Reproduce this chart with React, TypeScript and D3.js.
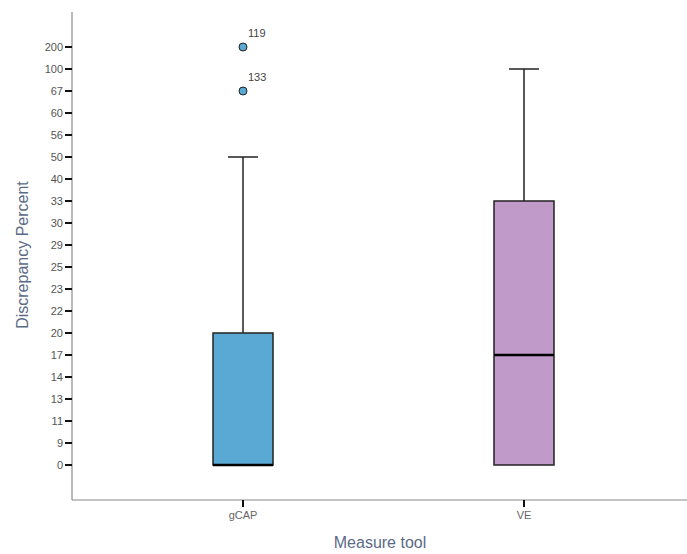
import React from 'react';
import * as d3 from 'd3';

const yTicks = ['0', '9', '11', '13', '14', '17', '20', '22', '23', '25', '29', '30', '33', '40', '50', '56', '60', '67', '100', '200'];
const categories = ['gCAP', 'VE'];
const whiskerLow = ['0', '0'];
const q1 = ['0', '0'];
const median = ['0', '17'];
const q3 = ['20', '33'];
const whiskerHigh = ['50', '100'];
const colors = ['#5aa9d5', '#c09bca'];
const outlierCat = ['gCAP', 'gCAP'];
const outlierVal = ['200', '67'];
const outlierLabel = ['119', '133'];

const W = 687, H = 554;
const axisX = 72, axisTop = 12, axisBottom = 500, axisRight = 687;

export default function App() {
  const y = d3.scalePoint<string>().domain(yTicks).range([465, 47]).padding(0);
  const x = d3.scalePoint<string>().domain(categories).range([243, 524]).padding(0);
  const boxW = 60, capW = 30;
  const font = 'Liberation Sans, Arial, sans-serif';
  const labelColor = '#5b6b86';
  return (
    <svg width={W} height={H} style={{ position: 'absolute', left: 0, top: 0, background: '#fff' }} fontFamily={font}>
      {/* axes */}
      <line x1={axisX} x2={axisX} y1={axisTop} y2={axisBottom} stroke="#8a8a8a" strokeWidth={1.2} />
      <line x1={axisX} x2={axisRight} y1={axisBottom} y2={axisBottom} stroke="#8a8a8a" strokeWidth={1.2} />
      {yTicks.map((t) => (
        <g key={t}>
          <line x1={axisX - 7} x2={axisX} y1={y(t)} y2={y(t)} stroke="#111" strokeWidth={2} />
          <text x={axisX - 9} y={y(t)!} dy="0.35em" textAnchor="end" fontSize={11} fill="#555">{t}</text>
        </g>
      ))}
      {categories.map((c) => (
        <g key={c}>
          <line x1={x(c)} x2={x(c)} y1={axisBottom} y2={axisBottom + 7} stroke="#111" strokeWidth={2} />
          <text x={x(c)!} y={axisBottom + 19} textAnchor="middle" fontSize={11} fill="#666">{c}</text>
        </g>
      ))}
      <text transform={`translate(28,${255}) rotate(-90)`} textAnchor="middle" fontSize={16} fill={labelColor}>Discrepancy Percent</text>
      <text x={380} y={548} textAnchor="middle" fontSize={16} fill={labelColor}>Measure tool</text>
      {/* boxes */}
      {categories.map((c, i) => {
        const cx = x(c)!;
        return (
          <g key={c}>
            <line x1={cx} x2={cx} y1={y(q3[i])} y2={y(whiskerHigh[i])} stroke="#222" strokeWidth={1.5} />
            <line x1={cx - capW / 2} x2={cx + capW / 2} y1={y(whiskerHigh[i])} y2={y(whiskerHigh[i])} stroke="#222" strokeWidth={1.5} />
            <line x1={cx} x2={cx} y1={y(q1[i])} y2={y(whiskerLow[i])} stroke="#222" strokeWidth={1.5} />
            <rect x={cx - boxW / 2} y={y(q3[i])} width={boxW} height={y(q1[i])! - y(q3[i])!} fill={colors[i]} stroke="#222" strokeWidth={1.5} />
            <line x1={cx - boxW / 2} x2={cx + boxW / 2} y1={y(median[i])} y2={y(median[i])} stroke="#000" strokeWidth={2.5} />
          </g>
        );
      })}
      {outlierVal.map((v, i) => {
        const ci = categories.indexOf(outlierCat[i]);
        const cx = x(outlierCat[i])!;
        return (
          <g key={i}>
            <circle cx={cx} cy={y(v)} r={4} fill={colors[ci]} stroke="#222" strokeWidth={1} />
            <text x={cx + 5} y={y(v)! - 10} fontSize={11} fill="#444">{outlierLabel[i]}</text>
          </g>
        );
      })}
    </svg>
  );
}
